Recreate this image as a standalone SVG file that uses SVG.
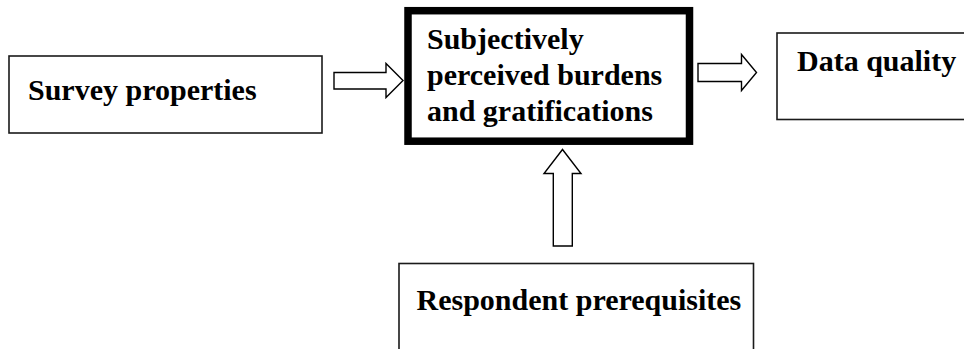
<svg xmlns="http://www.w3.org/2000/svg" width="964" height="349" viewBox="0 0 964 349">
<style>
.box{fill:#fff;stroke:#1a1a1a;stroke-width:1.6}
.main{fill:#fff;stroke:#000;stroke-width:7.5}
.arrow{fill:#fff;stroke:#000;stroke-width:1.4;stroke-linejoin:miter}
.t{font-family:"Liberation Serif","Times New Roman",serif;font-weight:bold;font-size:30px;fill:#000}
</style>
<rect width="964" height="349" fill="#fff"/>
<g id="survey">
<rect class="box" x="9" y="56" width="313" height="77"/>
<text class="t" x="28" y="100">Survey properties</text>
</g>
<g id="burdens">
<rect class="main" x="408" y="10.7" width="281.5" height="130.5"/>
<text class="t" x="427"><tspan x="427" y="49">Subjectively</tspan><tspan x="427" y="85">perceived burdens</tspan><tspan x="427" y="120.5">and gratifications</tspan></text>
</g>
<g id="quality">
<rect class="box" x="777" y="33" width="200" height="86.5"/>
<text class="t" x="797" y="71">Data quality</text>
</g>
<g id="respondent">
<rect class="box" x="399" y="263.5" width="354.5" height="100"/>
<text class="t" x="416.5" y="310">Respondent prerequisites</text>
</g>
<g id="connectors">
<polygon class="arrow" points="334,72.5 386,72.5 386,63.5 403,80.5 386,97.5 386,89 334,89"/>
<polygon class="arrow" points="698,63.5 741.5,63.5 741.5,54.5 756.5,72.5 741.5,90.5 741.5,81.5 698,81.5"/>
<polygon class="arrow" points="553.3,246 553.3,173.5 544,173.5 562.5,149.5 581,173.5 572.3,173.5 572.3,246"/>
</g>
</svg>
